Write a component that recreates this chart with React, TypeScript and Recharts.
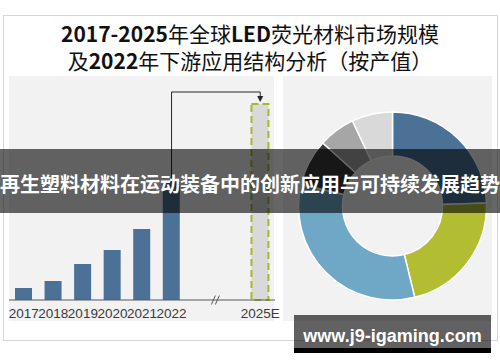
import React from 'react';
import { BarChart, Bar, XAxis, YAxis, Cell, ReferenceLine, PieChart, Pie } from 'recharts';

// Left chart: global LED phosphor market size (relative units)
const years = ['2017', '2018', '2019', '2020', '2021', '2022', 'gapA', 'gapB', '2025E'];
const marketSize: (number | null)[] = [12, 19, 36, 50, 71, 118, null, null, 196];
const arrowLevel = 208;
const yDomain: [number, number] = [0, 220];

// Right chart: 2022 downstream application structure (share of output value, %)
const segments = ['通用照明', '背光显示', '汽车照明', '特种照明', '植物照明', '其他'];
const shares = [24.5, 21.7, 32.5, 8, 6.3, 7];
const segmentColors = ['#4c7197', '#b2bd32', '#6fa7c7', '#3b3b3b', '#a6a6a6', '#d9d9d9'];

const titleLine1 = [
  { t: '2017-2025', b: true },
  { t: '年全球', b: false },
  { t: 'LED', b: true },
  { t: '荧光材料市场规模', b: false },
];
const titleLine2 = [
  { t: '及', b: false },
  { t: '2022', b: true },
  { t: '年下游应用结构分析（按产值）', b: false },
];
const bannerText = '再生塑料材料在运动装备中的创新应用与可持续发展趋势';
const watermark = 'www.j9-igaming.com';

const barData = years.map((y, i) => ({ year: y, value: marketSize[i] }));
const pieData = segments.map((s, i) => ({ name: s, value: shares[i] }));

const ArrowDown = (p: any) => {
  const { x1, y1, x2, y2 } = p;
  const tip = y2 - 2;
  return (
    <g>
      <line x1={x1} y1={y1} x2={x2} y2={tip - 5} stroke="#262626" strokeWidth={1} />
      <path d={`M${x2 - 3},${tip - 6} L${x2 + 3},${tip - 6} L${x2},${tip} Z`} fill="#262626" />
    </g>
  );
};

const PlainLine = (p: any) => {
  const { x1, y1, x2, y2 } = p;
  return <line x1={x1} y1={y1} x2={x2} y2={y2} stroke="#262626" strokeWidth={1} />;
};

const BreakMark = (p: any) => {
  const { x1, x2, y1 } = p;
  const cx = (x1 + x2) / 2;
  return (
    <g stroke="#595959" strokeWidth={1}>
      <line x1={cx - 4.5} y1={y1 + 4.5} x2={cx - 0.5} y2={y1 - 4.5} />
      <line x1={cx - 0.5} y1={y1 + 4.5} x2={cx + 3.5} y2={y1 - 4.5} />
    </g>
  );
};

const cjk = "'Noto Sans CJK SC', sans-serif";

const TitleLine = ({ parts, top }: { parts: { t: string; b: boolean }[]; top: number }) => (
  <div
    style={{
      position: 'absolute',
      left: 0,
      top,
      width: 500,
      height: 27,
      textAlign: 'center',
      fontFamily: cjk,
      fontSize: 21,
      lineHeight: '27px',
      color: '#111',
      whiteSpace: 'nowrap',
    }}
  >
    {parts.map((p, i) => (
      <span key={i} style={{ fontWeight: p.b ? 700 : 400 }}>
        {p.t}
      </span>
    ))}
  </div>
);

export default function App() {
  return (
    <div style={{ position: 'absolute', left: 0, top: 0, width: 500, height: 362, background: '#fff', overflow: 'hidden' }}>
      <div style={{ position: 'absolute', left: 3, top: 15, width: 493, height: 324, border: '1px solid #d6d6d6' }} />
      <TitleLine parts={titleLine1} top={20} />
      <TitleLine parts={titleLine2} top={47} />
      <div style={{ position: 'absolute', left: 9, top: 76, width: 265, height: 245, background: '#f2f2f2' }} />
      <div style={{ position: 'absolute', left: 283, top: 76, width: 209, height: 245, background: '#f2f2f2' }} />

      <div style={{ position: 'absolute', left: 9, top: 70 }}>
        <BarChart width={280} height={260} data={barData} margin={{ top: 10, right: 14, bottom: 0, left: 0 }}>
          <XAxis
            dataKey="year"
            interval={0}
            tickLine={false}
            height={30}
            axisLine={{ stroke: '#595959', strokeWidth: 1 }}
            tick={{ fill: '#3a3a3a', fontSize: 13.5, fontFamily: 'Liberation Sans' }}
            tickFormatter={(v: string) => (v.startsWith('gap') ? '' : v)}
          />
          <YAxis hide domain={yDomain} />
          <Bar dataKey="value" barSize={17} isAnimationActive={false}>
            {barData.map((d, i) =>
              d.year === '2025E' ? (
                <Cell key={i} fill="#d9d9d9" stroke="#a8b82c" strokeWidth={2} strokeDasharray="7 4" />
              ) : (
                <Cell key={i} fill="#4c7197" />
              )
            )}
          </Bar>
          <ReferenceLine segment={[{ x: '2022', y: marketSize[5] as number }, { x: '2022', y: arrowLevel }]} shape={PlainLine} ifOverflow="visible" />
          <ReferenceLine segment={[{ x: '2022', y: arrowLevel }, { x: '2025E', y: arrowLevel }]} shape={PlainLine} ifOverflow="visible" />
          <ReferenceLine segment={[{ x: '2025E', y: arrowLevel }, { x: '2025E', y: marketSize[8] as number }]} shape={ArrowDown} ifOverflow="visible" />
          <ReferenceLine segment={[{ x: 'gapA', y: 0 }, { x: 'gapB', y: 0 }]} shape={BreakMark} ifOverflow="visible" />
        </BarChart>
      </div>

      <div style={{ position: 'absolute', left: 283, top: 76 }}>
        <PieChart width={209} height={245}>
          <Pie
            data={pieData}
            dataKey="value"
            nameKey="name"
            cx={104.5}
            cy={125}
            innerRadius={50}
            outerRadius={94}
            startAngle={90}
            endAngle={-270}
            stroke="#ffffff"
            strokeWidth={1.5}
            isAnimationActive={false}
          >
            {pieData.map((d, i) => (
              <Cell key={i} fill={segmentColors[i]} />
            ))}
          </Pie>
        </PieChart>
      </div>

      <div style={{ position: 'absolute', left: 0, top: 149, width: 500, height: 64, background: 'rgba(0,0,0,0.6)' }} />
      <div
        style={{
          position: 'absolute',
          left: 0,
          top: 169,
          width: 500,
          lineHeight: '30px',
          textAlign: 'center',
          color: '#fff',
          fontFamily: cjk,
          fontWeight: 700,
          fontSize: 20,
          whiteSpace: 'nowrap',
        }}
      >
        {bannerText}
      </div>

      <div style={{ position: 'absolute', left: 294, top: 315, width: 197, height: 33, background: 'rgba(0,0,0,0.62)' }} />
      <div style={{ position: 'absolute', left: 294, top: 348, width: 197, height: 5, background: '#000' }} />
      <div
        style={{
          position: 'absolute',
          left: 294,
          top: 324,
          width: 197,
          lineHeight: '24px',
          textAlign: 'center',
          color: '#fff',
          fontFamily: "'Liberation Sans', sans-serif",
          fontWeight: 700,
          fontSize: 18,
          whiteSpace: 'nowrap',
        }}
      >
        {watermark}
      </div>
    </div>
  );
}
